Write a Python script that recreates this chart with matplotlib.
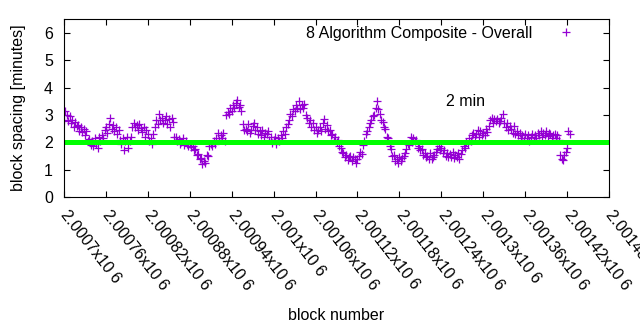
import numpy as np
import matplotlib
matplotlib.use("Agg")
import matplotlib.pyplot as plt

plt.rcParams['font.family'] = ['Liberation Sans', 'DejaVu Sans']

# block spacing (minutes), one sample every 2 blocks starting at 2000700
first_block = 2000700
block_step = 2
spacing = [
    2.80, 3.15, 3.00, 2.78, 2.95, 2.70, 2.82, 2.55, 2.75, 2.58,
    2.62, 2.42, 2.55, 2.38, 2.50, 2.25, 2.40, 2.05, 2.12, 1.90,
    2.05, 1.85, 2.15, 1.95, 1.80, 2.20, 2.05, 2.25, 2.15, 2.45,
    2.55, 2.35, 2.65, 2.90, 2.50, 2.62, 2.40, 2.55, 2.30, 2.45,
    2.10, 1.95, 2.15, 1.72, 2.05, 2.20, 1.80, 2.05, 2.20, 2.55,
    2.70, 2.55, 2.62, 2.45, 2.68, 2.52, 2.38, 2.55, 2.20, 2.45,
    2.30, 2.05, 2.15, 1.95, 2.30, 2.55, 2.80, 2.65, 3.05, 2.80,
    2.90, 2.70, 2.80, 2.95, 2.65, 2.85, 2.55, 2.88, 2.75, 2.20,
    2.20, 2.05, 2.12, 1.95, 2.00, 2.15, 1.90, 2.05, 1.95, 1.88,
    1.95, 1.82, 1.88, 1.70, 1.75, 1.55, 1.58, 1.38, 1.42, 1.22,
    1.30, 1.25, 1.52, 1.50, 1.85, 1.95, 1.85, 2.05, 1.95, 2.15,
    2.35, 2.10, 2.25, 2.15, 2.35, 2.05, 3.00, 3.10, 3.05, 3.25,
    3.15, 3.35, 3.25, 3.45, 3.55, 3.30, 3.35, 3.15, 2.65, 2.45,
    2.50, 2.40, 2.65, 2.35, 2.45, 2.60, 2.70, 2.45, 2.55, 2.30,
    2.40, 2.25, 2.45, 2.20, 2.35, 2.30, 2.40, 2.10, 2.20, 1.98,
    2.10, 2.20, 1.95, 2.15, 2.05, 2.25, 2.15, 2.40, 2.30, 2.55,
    2.65, 2.80, 3.05, 2.95, 3.20, 3.15, 3.35, 3.25, 3.50, 3.20,
    3.35, 3.25, 3.40, 3.00, 2.90, 2.70, 2.80, 2.55, 2.70, 2.45,
    2.55, 2.35, 2.45, 2.55, 2.40, 2.70, 2.85, 2.50, 2.62, 2.40,
    2.45, 2.25, 2.30, 2.10, 2.20, 2.00, 2.10, 1.85, 1.80, 1.65,
    1.60, 1.48, 1.55, 1.35, 1.45, 1.50, 1.30, 1.48, 1.40, 1.25,
    1.38, 1.50, 1.65, 1.58, 1.90, 2.05, 2.30, 2.40, 2.55, 2.70,
    2.80, 2.95, 3.00, 3.25, 3.50, 3.20, 3.05, 2.80, 2.75, 2.55,
    2.50, 2.20, 2.15, 1.85, 1.75, 1.50, 1.52, 1.30, 1.40, 1.25,
    1.45, 1.30, 1.42, 1.50, 1.62, 1.75, 1.95, 1.90, 2.20, 2.00,
    2.15, 2.05, 2.10, 1.80, 1.85, 1.70, 1.75, 1.55, 1.62, 1.45,
    1.50, 1.40, 1.60, 1.38, 1.48, 1.55, 1.65, 1.75, 1.85, 1.70,
    1.78, 1.60, 1.70, 1.50, 1.62, 1.45, 1.58, 1.48, 1.65, 1.42,
    1.55, 1.45, 1.62, 1.40, 1.58, 1.72, 1.85, 1.80, 2.00, 1.95,
    2.15, 2.05, 2.25, 2.35, 2.20, 2.30, 2.45, 2.20, 2.40, 2.25,
    2.35, 2.25, 2.50, 2.38, 2.60, 2.80, 2.90, 2.72, 2.85, 2.78,
    2.85, 2.70, 2.78, 2.90, 3.05, 2.70, 2.55, 2.70, 2.45, 2.60,
    2.50, 2.35, 2.60, 2.30, 2.42, 2.25, 2.35, 2.15, 2.25, 2.10,
    2.30, 2.15, 2.25, 2.05, 2.20, 2.30, 2.10, 2.25, 2.15, 2.35,
    2.25, 2.40, 2.20, 2.35, 2.28, 2.40, 2.22, 2.35, 2.30, 2.15,
    2.25, 2.30, 2.15, 2.28, 2.10, 1.55, 1.40, 1.35, 1.55, 1.65,
    1.80, 2.40, 2.30,
]
blocks = first_block + block_step * np.arange(len(spacing))

target_minutes = 2
xtick_values = np.arange(2000700, 2001481, 60)
xtick_labels = ['2.0007', '2.00076', '2.00082', '2.00088', '2.00094', '2.001',
                '2.00106', '2.00112', '2.00118', '2.00124', '2.0013', '2.00136',
                '2.00142', '2.00148']

fig = plt.figure(figsize=(6.4, 3.3), dpi=100)
ax = fig.add_axes([0.1, 0.403, 0.8516, 0.539])

ax.plot(blocks, spacing, linestyle='none', marker='+', markersize=6,
        markeredgewidth=0.9, color='#9400d3', label='8 Algorithm Composite - Overall')
ax.axhline(target_minutes, color='#00ff00', linewidth=3.6)
ax.text(2001275, 3.5, '2 min', ha='center', va='center', fontsize=11.5)

ax.set_xlim(2000700, 2001480)
ax.set_ylim(0, 6.5)
ax.set_yticks(range(7))
ax.set_xticks(xtick_values)
ax.set_xticklabels([s + 'x10 6' for s in xtick_labels], rotation=-52,
                   ha='left', va='center', rotation_mode='anchor')

ax.tick_params(direction='in', length=4, width=0.8, top=True, right=True,
               labelsize=11.5)
ax.tick_params(axis='y', pad=8)
ax.tick_params(axis='x', pad=11)
for side in ax.spines.values():
    side.set_linewidth(0.8)

ax.set_ylabel('block spacing [minutes]', fontsize=11.5)
ax.yaxis.set_label_coords(-0.084, 0.5)
ax.yaxis.label.set_va('center')
ax.set_xlabel('block number', fontsize=11.5)
ax.xaxis.set_label_coords(0.5, -0.668)
ax.xaxis.label.set_va('center')

ax.legend(loc='upper right', frameon=False, markerfirst=False, fontsize=11.5,
          handlelength=2.0, handletextpad=1.1, borderaxespad=0.2,
          bbox_to_anchor=(0.968, 1.017))

fig.savefig('out.png', dpi=100)
